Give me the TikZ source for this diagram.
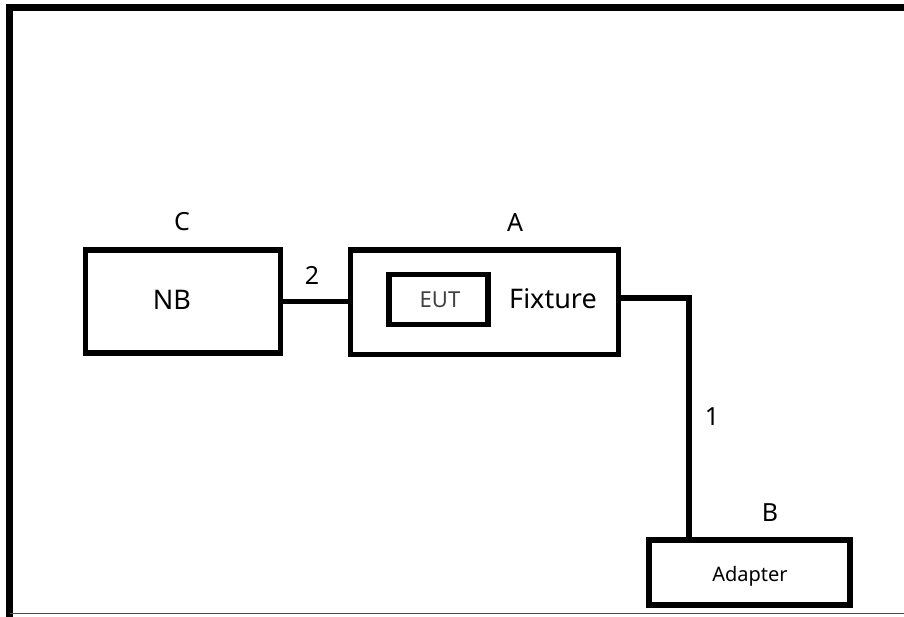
\documentclass[tikz,border=0pt]{standalone}
\usepackage{fontspec}
\setmainfont{Noto Sans}
\usetikzlibrary{positioning,calc}

\begin{document}
\begin{tikzpicture}[x=1pt, y=-1pt,
   box/.style={rectangle, draw=black, line width=5.5pt, inner sep=0pt},
   lbl/.style={font=\fontsize{25}{28}\selectfont, text=black},
   wire/.style={draw=black, line width=5.5pt}
]
\useasboundingbox (0,0) rectangle (904,616);
% outer frame
\draw[line width=7pt] (9.5,620) -- (9.5,7.5) -- (910,7.5);
\draw[line width=1.5pt, black!70] (9.5,613.5) -- (910,613.5);
% boxes
\node[box, minimum width=195pt, minimum height=103pt] (nb) at (183,301.5) {};
\node[box, minimum width=268pt, minimum height=104.5pt] (fix) at (484.5,302) {};
\node[box, minimum width=99pt, minimum height=50pt] (eut) at (438.5,299.5) {};
\node[box, minimum width=201pt, minimum height=65pt] (adp) at (749.5,572.5) {};
% texts
\node[font=\fontsize{27}{30}\selectfont] (nbtxt) at (172,300) {NB};
\node[font=\fontsize{27}{30}\selectfont] (fixtxt) at (553,299) {Fixture};
\node[font=\fontsize{22}{26}\selectfont, text=black!75] (euttxt) at (440,300) {EUT};
\node[font=\fontsize{20}{24}\selectfont] (adptxt) at (750,576) {Adapter};
\node[lbl] (labc) at (182,222) {C};
\node[lbl] (laba) at (515,223) {A};
\node[lbl] (labb) at (770,513) {B};
% wires
\coordinate (bend) at (689,298);
\draw[wire] (nb.east) -- (nb.east -| fix.west);
\draw[wire] (fix.east |- bend) -- (bend) -- (bend |- adp.north);
\node[lbl] (wire2) at (312,275) {2};
\node[lbl] (wire1) at (712,417) {1};
\end{tikzpicture}
\end{document}
